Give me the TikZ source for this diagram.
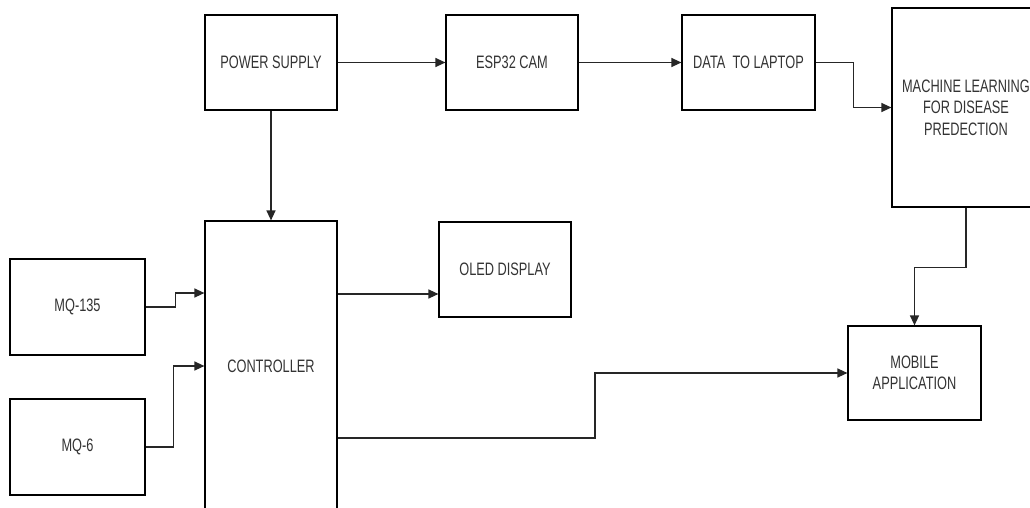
\documentclass[tikz,border=0pt]{standalone}
\usepackage{fontspec}
\setmainfont{Liberation Sans}[FakeStretch=0.71]
\usetikzlibrary{arrows.meta}
\begin{document}
\begin{tikzpicture}[x=1pt,y=-1pt,
  blk/.style={draw=black, line width=1.2pt, inner sep=0pt, align=center, text=black!80,
    font=\fontsize{18}{21.5}\selectfont},
  conn/.style={draw=black!85, line width=1.3pt, -{Triangle[length=10pt,width=9pt]}}]
\clip (0,0) rectangle (1030,508);
\fill[white] (0,0) rectangle (1030,508);
\node[blk, minimum width=132pt, minimum height=95pt] (ps) at (271,62.5) {POWER SUPPLY};
\node[blk, minimum width=132pt, minimum height=95pt] (esp) at (512,62.5) {ESP32 CAM};
\node[blk, minimum width=133pt, minimum height=95pt] (data) at (748.5,62.5) {DATA\ \ TO LAPTOP};
\node[blk, minimum width=148pt, minimum height=199pt] (ml) at (966,107.5) {MACHINE LEARNING\\FOR DISEASE\\PREDECTION};
\node[blk, minimum width=132pt, minimum height=290pt] (ctrl) at (271,366) {CONTROLLER};
\node[blk, minimum width=132pt, minimum height=95pt] (oled) at (505,269.5) {OLED DISPLAY};
\node[blk, minimum width=135pt, minimum height=96pt] (mq135) at (77.5,307) {MQ-135};
\node[blk, minimum width=135pt, minimum height=96pt] (mq6) at (77.5,447) {MQ-6};
\node[blk, minimum width=133pt, minimum height=94pt] (mob) at (914.5,373) {MOBILE\\APPLICATION};
\coordinate (c1) at (ctrl.east |- 0,294);
\coordinate (c2) at (ctrl.east |- 0,438);
\coordinate (c3) at (ctrl.west |- 0,293);
\draw[conn] (ps.east) -- (esp.west);
\draw[conn] (esp.east) -- (data.west);
\draw[conn] (data.east) -- ++(38,0) |- (ml.west);
\draw[conn] (ml.south) -- ++(0,60) -| (mob.north);
\draw[conn] (ps.south) -- (ctrl.north);
\draw[conn] (c1) -- (c1 -| oled.west);
\draw[conn] (c2) -- (595,438) |- (mob.west);
\draw[conn] (mq135.east) -- ++(30,0) |- (c3);
\draw[conn] (mq6.east) -- ++(28,0) |- (ctrl.west);
\end{tikzpicture}
\end{document}
